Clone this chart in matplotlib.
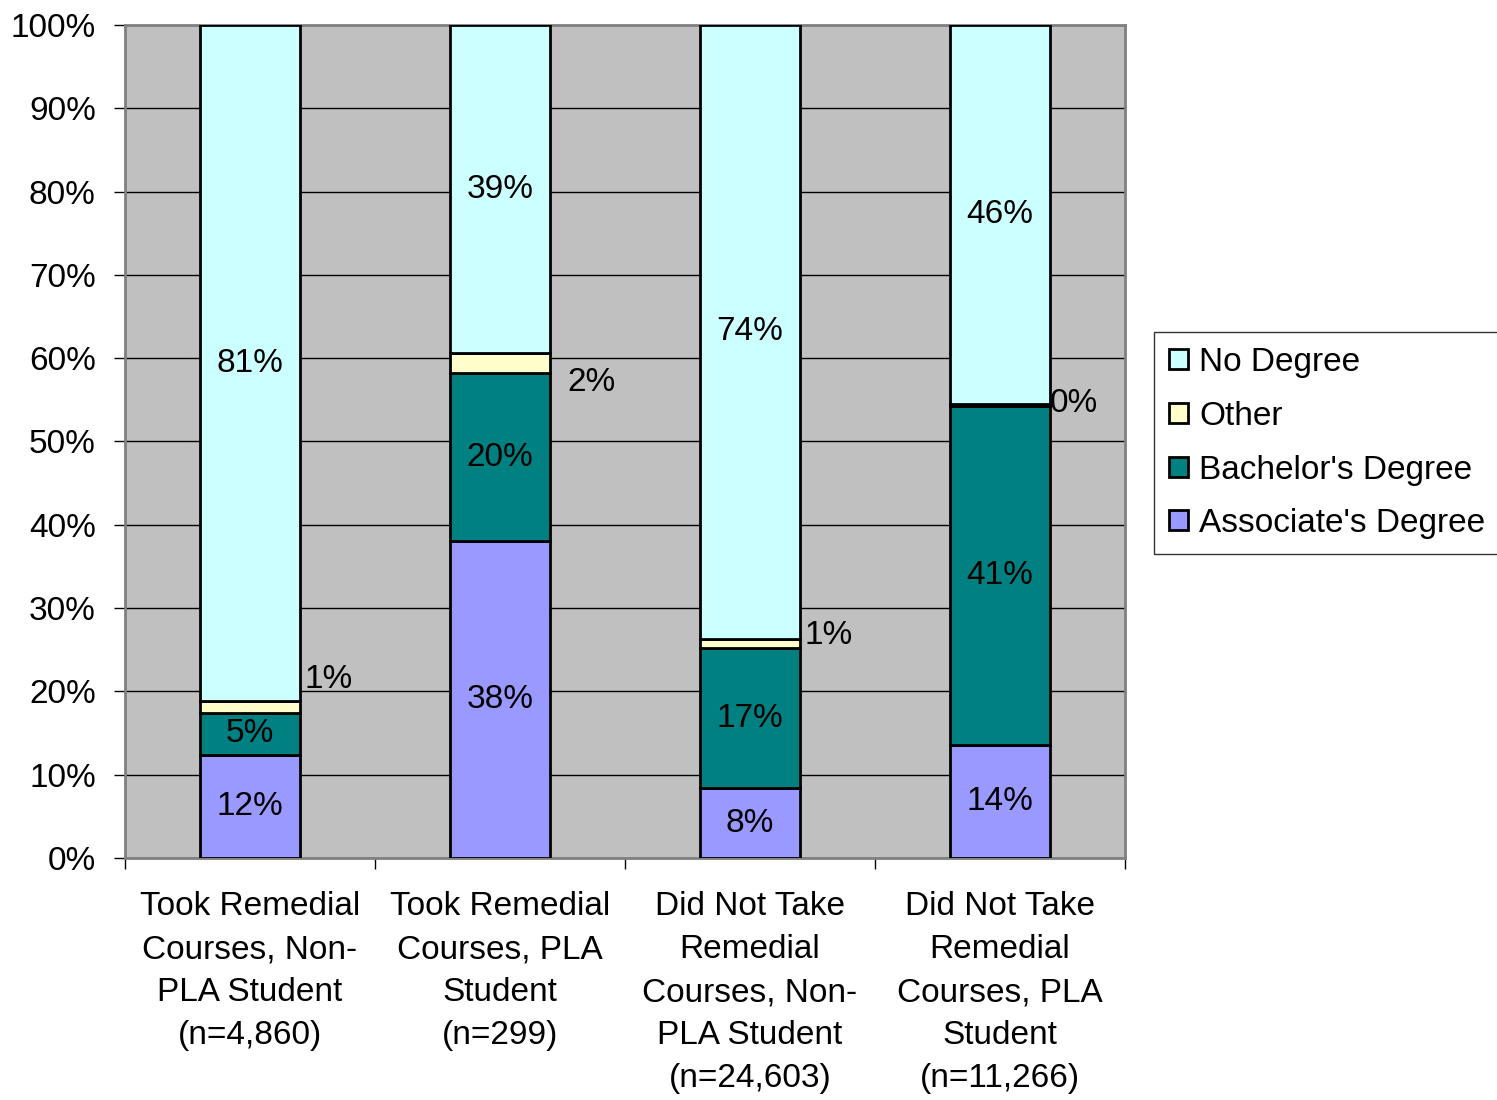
import matplotlib.pyplot as plt
import numpy as np

plt.rcParams['font.family'] = ['Liberation Sans', 'DejaVu Sans']

# categories and percentages (bottom to top)
categories = ["Took Remedial\nCourses, Non-\nPLA Student\n(n=4,860)",
              "Took Remedial\nCourses, PLA\nStudent\n(n=299)",
              "Did Not Take\nRemedial\nCourses, Non-\nPLA Student\n(n=24,603)",
              "Did Not Take\nRemedial\nCourses, PLA\nStudent\n(n=11,266)"]
associate = [12.4, 38.0, 8.4, 13.6]
bachelor = [5.0, 20.2, 16.8, 40.6]
other = [1.4, 2.4, 1.1, 0.3]
no_degree = [81.2, 39.4, 73.7, 45.5]

series = [("Associate's Degree", associate, '#9999FF'),
          ("Bachelor's Degree", bachelor, '#008080'),
          ("Other", other, '#FFFFCC'),
          ("No Degree", no_degree, '#CCFFFF')]

# where the small "Other" labels sit (x offset in bar units, y offset in %)
other_dx = [0.02, 0.07, 0.02, 0.0]
other_dy = [3.3, -2.3, 1.0, 0.2]

fs = 24
fig = plt.figure(figsize=(14.97, 11), dpi=100)
ax = fig.add_axes([0.0835, 0.22, 0.668, 0.7573])
ax.set_facecolor('#C0C0C0')

x = np.arange(len(categories))
w = 0.4
bottom = np.zeros(len(categories))
handles = []
for name, vals, col in series:
    vals = np.array(vals)
    b = ax.bar(x, vals, w, bottom=bottom, color=col, edgecolor='black',
               linewidth=2, label=name, zorder=3)
    handles.append(b)
    for i in range(len(x)):
        txt = f"{vals[i]:.0f}%"
        if name == "Other":
            ax.text(x[i] + w / 2 + other_dx[i], bottom[i] + vals[i] / 2 + other_dy[i],
                    txt, ha='left', va='center', fontsize=fs, zorder=4)
        else:
            ax.text(x[i], bottom[i] + vals[i] / 2, txt, ha='center', va='center',
                    fontsize=fs, zorder=4)
    bottom += vals

ax.set_xlim(-0.5, 3.5)
ax.set_ylim(0, 100)
ax.set_yticks(np.arange(0, 101, 10))
ax.set_yticklabels([f"{v}%" for v in range(0, 101, 10)], fontsize=fs)
ax.yaxis.grid(True, color='black', linewidth=1, zorder=0)
ax.set_axisbelow(True)
ax.set_xticks(np.arange(-0.5, 3.6, 1))
ax.set_xticklabels([])
ax.set_xticks(x, minor=True)
ax.set_xticklabels(categories, minor=True, fontsize=fs, linespacing=1.5)
ax.tick_params(axis='x', which='minor', length=0, pad=24)
ax.tick_params(axis='x', which='major', length=8, width=1, direction='out')
ax.tick_params(axis='y', length=8, width=1, direction='out', pad=13)
for s in ['top', 'right', 'left', 'bottom']:
    ax.spines[s].set_color('#808080')
    ax.spines[s].set_linewidth(2)

leg = fig.legend(handles[::-1], [s[0] for s in series][::-1], loc='upper left',
                 bbox_to_anchor=(0.771, 0.698), fontsize=fs, frameon=True,
                 fancybox=False, edgecolor='black', handlelength=0.55,
                 handleheight=0.55, handletextpad=0.35, labelspacing=0.68,
                 borderpad=0.45, borderaxespad=0)
leg.get_frame().set_linewidth(1)

plt.savefig('out.png', dpi=100)
